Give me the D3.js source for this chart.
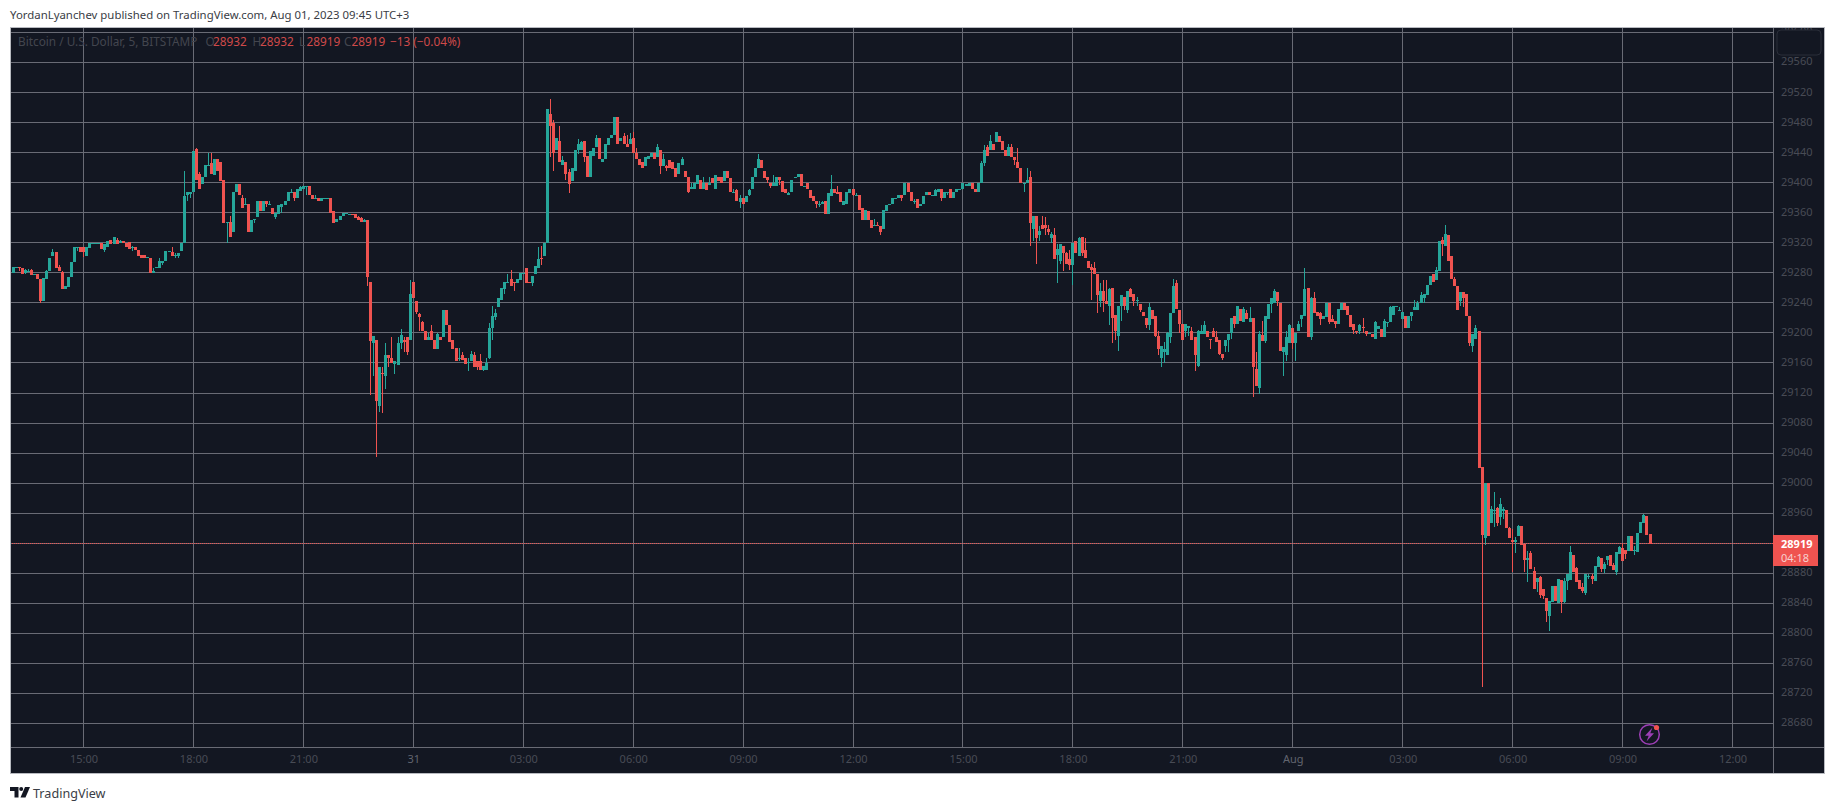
<!DOCTYPE html>
<html><head><meta charset="utf-8">
<script src="https://d3js.org/d3.v7.min.js"></script>
<style>html,body{margin:0;padding:0;background:#fff;overflow:hidden}svg{display:block}text{font-family:"Noto Sans",sans-serif}</style>
</head><body><div id="chart"></div>
<script>
const opens=[
29280,29287,29288,29287,29280,29282,29284,29278,29278,29272,
29242,29272,29283,29302,29308,29288,29281,29259,29261,29275,
29295,29313,29314,29314,29303,29313,29319,29319,29320,29320,
29311,29315,29324,29319,29324,29320,29323,29320,29321,29314,
29315,29311,29304,29304,29300,29300,29280,29286,29287,29293,
29296,29309,29308,29303,29302,29309,29320,29383,29385,29387,
29445,29411,29398,29408,29422,29426,29410,29432,29427,29403,
29346,29348,29334,29387,29398,29380,29371,29372,29335,29350,
29355,29376,29363,29376,29371,29366,29355,29359,29368,29370,
29375,29387,29388,29380,29389,29391,29394,29395,29383,29378,
29380,29375,29379,29380,29380,29362,29348,29351,29356,29359,
29357,29359,29359,29355,29353,29348,29351,29268,29187,29190,
29103,29147,29142,29171,29167,29158,29157,29186,29191,29194,
29191,29268,29242,29225,29215,29203,29191,29203,29191,29178,
29195,29194,29231,29211,29190,29180,29165,29171,29167,29160,
29163,29171,29163,29163,29150,29151,29167,29206,29221,29235,
29244,29259,29267,29272,29268,29267,29271,29279,29286,29268,
29267,29279,29287,29300,29302,29320,29492,29480,29443,29456,
29423,29427,29414,29402,29416,29443,29443,29455,29435,29407,
29436,29448,29460,29427,29431,29450,29460,29463,29487,29455,
29462,29451,29451,29460,29440,29432,29427,29422,29432,29434,
29440,29434,29444,29422,29422,29430,29428,29420,29411,29423,
29416,29408,29391,29391,29398,29404,29391,29399,29397,29406,
29391,29408,29407,29402,29415,29406,29387,29390,29374,29380,
29374,29383,29391,29407,29419,29430,29416,29408,29400,29395,
29396,29408,29402,29392,29384,29388,29406,29407,29412,29395,
29400,29390,29382,29376,29371,29372,29376,29359,29382,29392,
29387,29387,29370,29372,29386,29392,29382,29384,29366,29350,
29363,29350,29342,29344,29343,29339,29363,29370,29371,29379,
29380,29383,29383,29400,29388,29374,29378,29369,29371,29383,
29388,29382,29382,29388,29392,29379,29387,29391,29379,29387,
29391,29392,29395,29395,29400,29392,29387,29400,29426,29447,
29443,29452,29454,29462,29455,29444,29436,29448,29434,29428,
29420,29398,29399,29407,29339,29356,29330,29344,29344,29338,
29327,29331,29304,29296,29316,29307,29299,29291,29322,29303,
29328,29311,29296,29288,29286,29279,29243,29256,29243,29236,
29260,29224,29196,29236,29248,29231,29258,29252,29243,29238,
29228,29220,29210,29230,29222,29196,29166,29174,29171,29195,
29226,29266,29231,29212,29202,29207,29203,29194,29156,29198,
29198,29203,29192,29202,29194,29190,29172,29183,29190,29200,
29223,29212,29232,29215,29226,29215,29220,29152,29127,29197,
29189,29219,29238,29240,29255,29240,29174,29170,29186,29207,
29186,29202,29218,29223,29260,29194,29247,29228,29226,29218,
29221,29240,29219,29216,29212,29231,29240,29236,29224,29212,
29203,29202,29208,29203,29199,29199,29192,29205,29205,29194,
29214,29214,29224,29236,29230,29219,29223,29206,29223,29230,
29231,29240,29247,29250,29264,29278,29271,29282,29324,29316,
29330,29302,29272,29263,29243,29255,29252,29222,29182,29192,
29203,29022,28927,29000,28947,28963,28967,28955,28963,28964,
28940,28924,28922,28930,28943,28919,28898,28907,28883,28868,
28875,28859,28847,28823,28842,28863,28840,28871,28842,28870,
28871,28904,28887,28871,28862,28854,28875,28876,28870,28888,
28900,28886,28898,28904,28891,28882,28906,28914,28911,28910,
28930,28910,28908,28934,28947,28956,28932];
const closes=[
29288,29288,29286,29278,29284,29283,29277,29279,29272,29243,
29273,29283,29300,29308,29287,29283,29259,29262,29275,29294,
29314,29314,29308,29308,29314,29320,29320,29320,29320,29312,
29318,29323,29319,29328,29319,29323,29320,29315,29312,29315,
29310,29303,29300,29300,29301,29280,29283,29288,29296,29296,
29309,29309,29303,29304,29307,29320,29382,29388,29388,29442,
29403,29392,29408,29423,29424,29411,29432,29415,29402,29347,
29348,29328,29387,29398,29383,29367,29372,29335,29351,29352,
29375,29362,29376,29372,29372,29359,29360,29370,29371,29376,
29388,29388,29380,29391,29394,29395,29395,29383,29378,29379,
29376,29379,29380,29380,29360,29347,29352,29356,29360,29360,
29359,29358,29353,29351,29348,29351,29274,29189,29196,29110,
29155,29145,29171,29166,29160,29163,29187,29197,29188,29175,
29252,29247,29228,29221,29202,29191,29195,29191,29178,29198,
29190,29231,29211,29188,29178,29162,29166,29164,29158,29161,
29172,29155,29154,29150,29156,29160,29207,29222,29227,29246,
29260,29268,29268,29263,29267,29272,29280,29280,29267,29267,
29276,29289,29299,29299,29320,29498,29475,29440,29460,29427,
29430,29412,29398,29419,29443,29452,29454,29434,29407,29442,
29446,29460,29431,29431,29452,29460,29464,29488,29451,29460,
29451,29448,29458,29440,29431,29423,29419,29434,29435,29439,
29432,29448,29422,29431,29420,29419,29418,29407,29426,29431,
29407,29387,29394,29399,29410,29391,29400,29390,29400,29399,
29410,29402,29400,29416,29406,29388,29388,29375,29380,29371,
29382,29390,29408,29420,29431,29419,29406,29403,29395,29400,
29407,29404,29388,29386,29386,29404,29408,29411,29395,29396,
29392,29380,29375,29371,29372,29374,29359,29386,29392,29386,
29385,29374,29376,29387,29392,29383,29383,29364,29351,29364,
29350,29340,29344,29342,29335,29364,29370,29372,29380,29380,
29383,29380,29400,29387,29375,29375,29367,29371,29382,29388,
29383,29383,29390,29391,29379,29387,29388,29379,29387,29392,
29392,29400,29398,29399,29392,29388,29400,29426,29443,29436,
29456,29444,29468,29454,29443,29435,29448,29434,29430,29419,
29399,29400,29404,29347,29356,29327,29336,29339,29340,29335,
29332,29299,29312,29319,29306,29292,29291,29320,29307,29327,
29307,29300,29287,29284,29278,29251,29256,29243,29239,29258,
29220,29202,29236,29250,29236,29256,29248,29242,29244,29231,
29222,29210,29234,29219,29196,29178,29182,29179,29200,29227,
29262,29232,29212,29190,29212,29209,29191,29171,29202,29203,
29210,29194,29190,29195,29188,29172,29167,29190,29198,29220,
29212,29236,29216,29232,29218,29220,29155,29130,29199,29189,
29222,29238,29247,29256,29242,29176,29181,29195,29211,29187,
29200,29212,29224,29258,29195,29247,29227,29223,29218,29222,
29240,29214,29214,29212,29232,29240,29231,29224,29208,29204,
29202,29210,29206,29198,29200,29194,29214,29209,29194,29216,
29215,29234,29236,29236,29231,29228,29206,29222,29228,29234,
29240,29251,29252,29264,29276,29268,29284,29322,29318,29332,
29296,29272,29263,29231,29255,29246,29223,29186,29198,29207,
29020,28931,29000,28930,28966,28964,28947,28972,28966,28940,
28927,28922,28924,28943,28918,28898,28900,28886,28859,28874,
28851,28850,28830,28843,28863,28843,28872,28842,28870,28879,
28908,28882,28868,28859,28856,28879,28876,28872,28890,28902,
28886,28892,28903,28890,28884,28908,28915,28896,28906,28930,
28910,28911,28934,28948,28958,28931,28919];
const highs=[
29288,29288,29288,29287,29285,29285,29285,29279,29278,29272,
29273,29284,29300,29312,29308,29290,29283,29262,29275,29294,
29314,29314,29314,29314,29314,29320,29320,29320,29320,29320,
29318,29323,29324,29328,29326,29324,29323,29320,29321,29316,
29315,29311,29304,29304,29301,29300,29286,29288,29300,29296,
29309,29309,29314,29307,29307,29320,29416,29388,29388,29442,
29446,29414,29408,29423,29439,29439,29432,29432,29427,29403,
29348,29356,29387,29398,29398,29383,29380,29372,29351,29352,
29376,29376,29376,29376,29376,29367,29360,29370,29371,29376,
29388,29391,29388,29391,29395,29395,29395,29395,29383,29383,
29380,29379,29380,29380,29380,29362,29352,29356,29360,29360,
29359,29359,29359,29356,29354,29352,29351,29268,29196,29190,
29155,29154,29187,29171,29194,29163,29194,29205,29195,29194,
29270,29268,29242,29226,29216,29203,29200,29211,29191,29200,
29195,29231,29231,29211,29190,29180,29180,29175,29167,29167,
29176,29175,29163,29172,29156,29166,29213,29236,29232,29246,
29260,29268,29278,29284,29268,29272,29280,29280,29286,29268,
29276,29289,29314,29316,29320,29498,29511,29484,29460,29476,
29435,29427,29418,29419,29443,29458,29456,29455,29436,29442,
29446,29464,29460,29431,29452,29460,29464,29488,29488,29460,
29466,29463,29466,29467,29446,29432,29427,29434,29435,29439,
29440,29451,29444,29438,29423,29430,29428,29420,29426,29434,
29416,29408,29400,29399,29410,29404,29407,29399,29408,29406,
29410,29408,29407,29416,29415,29406,29392,29392,29383,29380,
29382,29392,29408,29420,29438,29430,29416,29408,29400,29410,
29407,29408,29402,29392,29388,29404,29408,29411,29412,29396,
29400,29390,29382,29376,29375,29376,29376,29386,29410,29392,
29396,29387,29376,29387,29392,29392,29386,29384,29366,29364,
29363,29350,29352,29348,29343,29364,29370,29372,29380,29380,
29383,29383,29400,29400,29388,29378,29378,29371,29382,29388,
29388,29383,29392,29391,29392,29387,29388,29391,29387,29392,
29392,29400,29398,29399,29400,29392,29400,29429,29450,29450,
29463,29452,29468,29462,29456,29444,29451,29451,29434,29446,
29420,29400,29420,29415,29356,29356,29343,29356,29355,29344,
29335,29340,29318,29319,29316,29308,29310,29320,29322,29328,
29328,29327,29296,29292,29295,29279,29267,29271,29271,29260,
29260,29224,29236,29250,29248,29256,29260,29252,29248,29238,
29228,29220,29240,29230,29222,29203,29182,29188,29201,29227,
29272,29270,29231,29212,29212,29209,29208,29194,29204,29211,
29216,29203,29192,29206,29203,29190,29172,29191,29198,29220,
29223,29236,29232,29235,29230,29234,29220,29175,29202,29216,
29222,29238,29247,29258,29255,29240,29181,29203,29212,29207,
29200,29216,29224,29287,29260,29248,29255,29228,29228,29222,
29240,29240,29224,29216,29232,29240,29240,29236,29224,29212,
29203,29212,29220,29203,29200,29199,29216,29209,29205,29218,
29215,29236,29236,29236,29234,29228,29223,29222,29228,29244,
29242,29254,29252,29264,29276,29278,29288,29322,29328,29344,
29330,29302,29274,29263,29255,29255,29252,29222,29198,29211,
29203,29022,29000,29000,28970,28988,28968,28980,28968,28964,
28942,28939,28928,28944,28943,28919,28910,28910,28888,28874,
28876,28859,28847,28843,28863,28863,28872,28871,28874,28879,
28916,28904,28888,28871,28867,28879,28879,28879,28890,28903,
28900,28895,28903,28904,28894,28908,28916,28920,28911,28930,
28930,28916,28934,28948,28959,28956,28932];
const lows=[
29280,29287,29283,29278,29279,29282,29277,29278,29272,29240,
29242,29272,29283,29302,29287,29283,29259,29259,29261,29275,
29295,29309,29308,29301,29303,29313,29319,29319,29320,29312,
29308,29315,29319,29319,29319,29320,29320,29315,29312,29309,
29310,29303,29300,29300,29300,29280,29280,29286,29287,29291,
29296,29309,29303,29300,29300,29309,29320,29376,29379,29387,
29403,29392,29398,29408,29422,29411,29410,29415,29402,29347,
29320,29328,29334,29387,29383,29367,29371,29335,29335,29347,
29355,29362,29363,29368,29371,29358,29352,29359,29360,29370,
29375,29387,29376,29380,29389,29391,29384,29383,29378,29378,
29376,29375,29379,29380,29360,29347,29348,29351,29356,29359,
29357,29358,29353,29351,29348,29348,29262,29117,29143,29035,
29095,29094,29126,29154,29160,29145,29157,29178,29175,29171,
29191,29247,29225,29203,29202,29191,29191,29191,29178,29178,
29190,29194,29211,29188,29178,29162,29163,29164,29158,29149,
29163,29155,29150,29150,29149,29151,29165,29190,29217,29235,
29244,29252,29267,29263,29256,29267,29271,29279,29267,29267,
29263,29279,29287,29290,29302,29320,29434,29415,29443,29427,
29423,29404,29386,29402,29416,29438,29443,29428,29407,29407,
29436,29448,29431,29427,29431,29450,29460,29463,29451,29455,
29451,29447,29451,29440,29431,29423,29419,29422,29432,29434,
29432,29434,29412,29422,29416,29419,29418,29407,29411,29423,
29407,29386,29391,29391,29398,29391,29391,29390,29397,29399,
29391,29402,29400,29402,29406,29388,29387,29375,29366,29371,
29374,29382,29391,29407,29419,29419,29406,29400,29393,29395,
29396,29397,29388,29386,29383,29388,29406,29407,29395,29395,
29392,29380,29375,29366,29368,29372,29359,29359,29382,29386,
29385,29374,29370,29372,29386,29382,29382,29364,29351,29350,
29350,29340,29342,29342,29330,29339,29363,29370,29371,29379,
29380,29375,29383,29387,29375,29372,29367,29369,29371,29383,
29383,29382,29382,29388,29376,29379,29383,29379,29379,29387,
29391,29392,29395,29395,29392,29388,29387,29400,29422,29436,
29443,29444,29454,29454,29443,29435,29436,29434,29423,29419,
29399,29388,29399,29316,29322,29292,29322,29339,29331,29330,
29320,29299,29267,29292,29282,29292,29284,29264,29307,29303,
29302,29300,29287,29244,29278,29226,29234,29228,29239,29210,
29186,29191,29176,29216,29230,29227,29248,29236,29236,29228,
29222,29207,29204,29219,29194,29171,29154,29160,29171,29187,
29226,29232,29200,29190,29194,29196,29191,29149,29155,29198,
29198,29194,29178,29195,29188,29171,29164,29174,29175,29192,
29206,29212,29216,29215,29218,29215,29115,29130,29119,29189,
29186,29219,29226,29240,29236,29176,29142,29163,29186,29178,
29163,29202,29208,29223,29195,29190,29227,29223,29210,29218,
29221,29212,29214,29207,29212,29231,29231,29224,29208,29199,
29199,29199,29200,29196,29199,29194,29192,29205,29194,29194,
29208,29214,29224,29236,29230,29219,29206,29206,29216,29230,
29231,29240,29240,29250,29264,29268,29271,29282,29302,29316,
29296,29272,29263,29231,29236,29235,29223,29183,29175,29192,
29020,28728,28918,28930,28947,28942,28943,28944,28952,28940,
28927,28882,28907,28930,28918,28882,28868,28886,28859,28855,
28847,28846,28815,28803,28842,28843,28840,28827,28840,28858,
28871,28882,28868,28859,28854,28851,28873,28866,28870,28888,
28882,28880,28891,28890,28884,28878,28906,28896,28899,28910,
28910,28904,28908,28934,28947,28931,28919];
const gridPrices=[29600,29560,29520,29480,29440,29400,29360,29320,29280,29240,29200,29160,29120,29080,29040,29000,28960,28920,28880,28840,28800,28760,28720,28680];
const priceLabels=[29600,29560,29520,29480,29440,29400,29360,29320,29280,29240,29200,29160,29120,29080,29040,29000,28960,28880,28840,28800,28760,28720,28680];
const timeLabels=["15:00","18:00","21:00","31","03:00","06:00","09:00","12:00","15:00","18:00","21:00","Aug","03:00","06:00","09:00","12:00"];
const timeStarts=["2023-07-30T15:00Z","2023-07-30T18:00Z","2023-07-30T21:00Z","2023-07-31T00:00Z","2023-07-31T03:00Z","2023-07-31T06:00Z","2023-07-31T09:00Z","2023-07-31T12:00Z","2023-07-31T15:00Z","2023-07-31T18:00Z","2023-07-31T21:00Z","2023-08-01T00:00Z","2023-08-01T03:00Z","2023-08-01T06:00Z","2023-08-01T09:00Z","2023-08-01T12:00Z"];
const firstCandle="2023-07-30T13:05Z";
const lastPrice=28919, countdown="04:18", lastOpen=28932, lastHigh=28932;
const headerText="YordanLyanchev published on TradingView.com, Aug 01, 2023 09:45 UTC+3";
const legendTitle="Bitcoin / U.S. Dollar, 5, BITSTAMP";

const W=1835,H=810;
const UP="#26a69a",DOWN="#ef5350",BG="#131722",GRID="#696b75",DIM="#484b55",FRAME="#b8bac0";
const L=10,T=27,R=1825,B=774,PX=1773,TY=747;
const svg=d3.select("#chart").append("svg").attr("width",W).attr("height",H).attr("viewBox",[0,0,W,H]);
const ticksT=timeStarts.map(s=>new Date(s));
const x=d3.scaleTime().domain([ticksT[0],ticksT[15]]).range([83.5,1732.5]);
const y=d3.scaleLinear().domain([28680,29600]).range([723.5,32.5]);
const snap=v=>Math.floor(v)+.5;
const t0=new Date(firstCandle);
const candles=opens.map((o,i)=>({t:d3.timeMinute.offset(t0,i*5),o,h:highs[i],l:lows[i],c:closes[i]}));

svg.append("text").attr("x",10).attr("y",19).attr("font-size",11.4).attr("fill","#3a3d45").text(headerText);
svg.append("rect").attr("x",L).attr("y",T).attr("width",R-L).attr("height",B-T).attr("fill",BG);

const grid=svg.append("g").attr("stroke",GRID).attr("stroke-width",1);
grid.selectAll(".h").data(gridPrices).join("line").attr("x1",L).attr("x2",PX).attr("y1",d=>snap(y(d))).attr("y2",d=>snap(y(d)));
grid.selectAll(".v").data(ticksT).join("line").attr("y1",T).attr("y2",TY).attr("x1",d=>snap(x(d))).attr("x2",d=>snap(x(d)));

// current price line
svg.append("line").attr("x1",L).attr("x2",PX).attr("y1",snap(y(lastPrice))).attr("y2",snap(y(lastPrice)))
  .attr("stroke",DOWN).attr("stroke-width",1).attr("stroke-dasharray","1 1");

// candles
const cg=svg.append("g").attr("shape-rendering","crispEdges");
const col=d=>d.c>=d.o?UP:DOWN;
cg.selectAll(".w").data(candles).join("rect").attr("x",d=>Math.floor(x(d.t))).attr("width",1)
  .attr("y",d=>Math.round(y(d.h))).attr("height",d=>Math.max(1,Math.round(y(d.l))-Math.round(y(d.h)))).attr("fill",col);
cg.selectAll(".b").data(candles).join("rect").attr("x",d=>Math.floor(x(d.t))-1).attr("width",3)
  .attr("y",d=>Math.round(y(Math.max(d.o,d.c)))).attr("height",d=>Math.max(1,Math.round(y(Math.min(d.o,d.c)))-Math.round(y(Math.max(d.o,d.c))))).attr("fill",col);

// axes
const yAxis=svg.append("g").attr("transform",`translate(${PX},0)`)
  .call(d3.axisRight(y).tickValues(priceLabels).tickSize(0).tickPadding(8).tickFormat(d3.format("d")));
yAxis.select(".domain").remove();
yAxis.selectAll("text").attr("font-family",'"Noto Sans",sans-serif').attr("font-size",11).attr("fill",DIM).attr("dy","0.22em");
const xAxis=svg.append("g").attr("transform",`translate(0,${TY})`)
  .call(d3.axisBottom(x).tickValues(ticksT).tickSize(0).tickPadding(8).tickFormat((d,i)=>timeLabels[i]));
xAxis.select(".domain").remove();
xAxis.selectAll("text").attr("font-family",'"Noto Sans",sans-serif').attr("font-size",11).attr("fill",(d,i)=>/:/.test(timeLabels[i])?DIM:"#62656f");

// axis separators & frame
svg.append("line").attr("x1",L).attr("x2",R).attr("y1",TY+.5).attr("y2",TY+.5).attr("stroke",GRID);
svg.append("line").attr("x1",PX+.5).attr("x2",PX+.5).attr("y1",T).attr("y2",B).attr("stroke",GRID);
svg.append("rect").attr("x",L+.5).attr("y",T+.5).attr("width",R-L-1).attr("height",B-T-1).attr("fill","none").attr("stroke",FRAME);

// price scale button
svg.append("rect").attr("x",1777).attr("y",30).attr("width",44).attr("height",25).attr("rx",4).attr("fill",BG).attr("stroke","#2a2e39");

// price tag
svg.append("rect").attr("x",PX).attr("y",535).attr("width",45).attr("height",31).attr("fill",DOWN);
svg.append("text").attr("x",1781).attr("y",548).attr("font-size",11).attr("font-weight",700).attr("fill","#fff").text(lastPrice);
svg.append("text").attr("x",1781).attr("y",562).attr("font-size",11).attr("fill","#f7d0cf").text(countdown);

// legend
const lg=svg.append("g").attr("font-size",11.8).attr("fill","#43464f");
const lgY=45.5;
lg.append("text").attr("x",18).attr("y",lgY).text(legendTitle);
[["O",205.5,lastOpen],["H",252.5,lastHigh],["L",299,lows[536]],["C",344,closes[536]]].forEach(([k,px,v])=>{
  lg.append("text").attr("x",px).attr("y",lgY).text(k);
  lg.append("text").attr("x",px+7.5).attr("y",lgY).attr("fill","#cf4a4a").text(v);
});
lg.append("text").attr("x",390).attr("y",lgY).attr("fill","#cf4a4a").text("−13 (−0.04%)");

// bolt icon
const ic=svg.append("g").attr("transform","translate(1649.5,734.5)");
ic.append("circle").attr("r",9.8).attr("fill",BG).attr("stroke","#9c3fb5").attr("stroke-width",1.5);
ic.append("path").attr("d","M3-7L-4.5 1.2H-0.8L-3 7L4.5-1.2H0.8Z").attr("fill","#9c3fb5");
svg.append("circle").attr("cx",1656.5).attr("cy",727.5).attr("r",2.6).attr("fill",DOWN);

// footer logo
const lo=svg.append("g").attr("transform","translate(10,787)").attr("fill","#131722");
lo.append("path").attr("d","M0 0H8.5V10.5H4.5V4H0Z");
lo.append("circle").attr("cx",11.2).attr("cy",2).attr("r",2);
lo.append("path").attr("d","M15 0H20L15.5 10.5H10.5Z");
svg.append("text").attr("x",33).attr("y",797.5).attr("font-size",12.6).attr("fill","#3a3d45").text("TradingView");
</script></body></html>
